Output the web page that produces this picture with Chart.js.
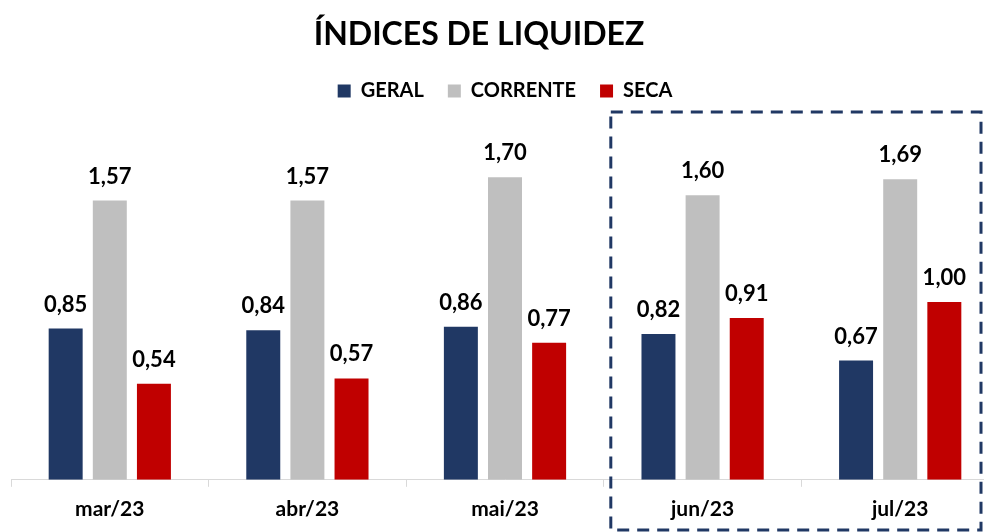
<!DOCTYPE html>
<html>
<head>
<meta charset="utf-8">
<script src="https://cdn.jsdelivr.net/npm/chart.js@4.4.0/dist/chart.umd.min.js"></script>
<style>
  html, body { margin: 0; padding: 0; background: #fff; overflow: hidden; }
  #wrap { position: relative; width: 1000px; height: 532px; }
</style>
</head>
<body>
<div id="wrap"><canvas id="liquidez"></canvas></div>
<script>
const months = ["mar/23", "abr/23", "mai/23", "jun/23", "jul/23"];
const geral = [0.85, 0.84, 0.86, 0.82, 0.67];
const corrente = [1.57, 1.57, 1.70, 1.60, 1.69];
const seca = [0.54, 0.57, 0.77, 0.91, 1.00];
const highlightFrom = 3; // jun/23 .. jul/23 inside the dashed box

const FONT = "Lato, 'Open Sans', sans-serif";

const fmt = (v) => v.toFixed(2).replace(".", ",");

// title drawn by hand so it can sit a bit left of centre like the original
const titlePlugin = {
  id: "titleText",
  afterDraw(chart) {
    const ctx = chart.ctx;
    ctx.save();
    ctx.font = "bold 32px " + FONT;
    ctx.fillStyle = "#000";
    ctx.textAlign = "center";
    ctx.textBaseline = "middle";
    ctx.fillText("ÍNDICES DE LIQUIDEZ", 479, 35);
    ctx.restore();
  }
};

// a bit more room under the legend
const legendGap = {
  id: "legendGap",
  beforeInit(chart) {
    const fit = chart.legend.fit;
    chart.legend.fit = function () {
      fit.bind(chart.legend)();
      this.height += 13;
    };
  }
};

const valueLabels = {
  id: "valueLabels",
  afterDatasetsDraw(chart) {
    const ctx = chart.ctx;
    ctx.save();
    ctx.font = "bold 22px " + FONT;
    ctx.fillStyle = "#000";
    ctx.textAlign = "center";
    ctx.textBaseline = "middle";
    chart.data.datasets.forEach((ds, i) => {
      chart.getDatasetMeta(i).data.forEach((bar, j) => {
        ctx.fillText(fmt(ds.data[j]), bar.x, bar.y - 24);
      });
    });
    ctx.restore();
  }
};

const dashedBox = {
  id: "dashedBox",
  afterDraw(chart) {
    const x = chart.scales.x;
    const catW = (x.right - x.left) / months.length;
    const left = x.getPixelForValue(highlightFrom) - catW / 2 + 7;
    const right = x.getPixelForValue(months.length - 1) + catW / 2 - 18;
    const top = chart.chartArea.top - 12;
    const bottom = chart.height - 2;
    const ctx = chart.ctx;
    ctx.save();
    ctx.strokeStyle = "#203864";
    ctx.lineWidth = 3;
    ctx.setLineDash([12, 8]);
    ctx.strokeRect(left, top, right - left, bottom - top);
    ctx.restore();
  }
};

new Chart(document.getElementById("liquidez"), {
  type: "bar",
  data: {
    labels: months,
    datasets: [
      { label: "GERAL", data: geral, backgroundColor: "#203864" },
      { label: "CORRENTE", data: corrente, backgroundColor: "#BFBFBF" },
      { label: "SECA", data: seca, backgroundColor: "#C00000" }
    ]
  },
  options: {
    responsive: true,
    maintainAspectRatio: false,
    animation: false,
    categoryPercentage: 0.67,
    barPercentage: 0.77,
    layout: { padding: { top: 57, left: 11, right: 1, bottom: 0 } },
    plugins: {
      title: { display: false },
      tooltip: { enabled: false },
      legend: {
        position: "top",
        labels: {
          boxWidth: 13,
          boxHeight: 13,
          padding: 24,
          color: "#000",
          font: { family: FONT, size: 20, weight: "bold" }
        }
      }
    },
    scales: {
      x: {
        grid: { drawOnChartArea: false, drawTicks: true, tickLength: 7, color: "#D9D9D9" },
        border: { display: true, color: "#D9D9D9", width: 1 },
        ticks: { color: "#000", padding: 10, font: { family: FONT, size: 21, weight: "bold" } }
      },
      y: {
        display: false,
        min: 0,
        max: 2.0
      }
    }
  },
  plugins: [titlePlugin, legendGap, valueLabels, dashedBox]
});
</script>
</body>
</html>
